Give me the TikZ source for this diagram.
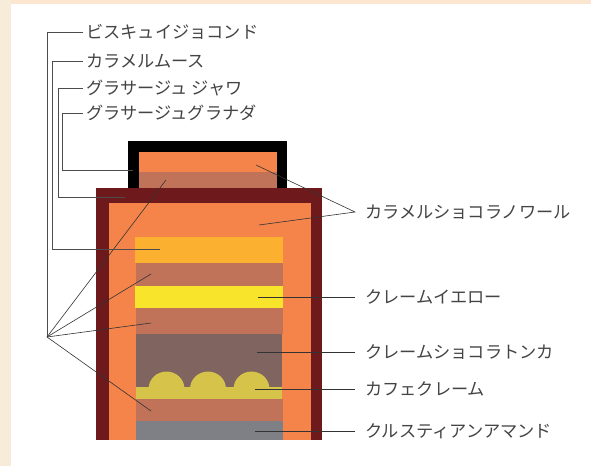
\documentclass[tikz,border=0pt]{standalone}
\usepackage{fontspec}
\newfontfamily\jpfont{Noto Sans CJK JP}
\definecolor{creamleft}{HTML}{F7EBDA}
\definecolor{creamtop}{HTML}{FCE6CF}
\definecolor{glazered}{HTML}{6E1A1C}
\definecolor{caramelorange}{HTML}{F5844B}
\definecolor{sponge}{HTML}{C1735A}
\definecolor{mousseyellow}{HTML}{FBB12F}
\definecolor{lemonyellow}{HTML}{F8E42A}
\definecolor{tonkabrown}{HTML}{7F6460}
\definecolor{cafeolive}{HTML}{D6C44A}
\definecolor{crunchgray}{HTML}{7E8085}
\definecolor{labelgray}{HTML}{444444}
\usetikzlibrary{positioning}

\begin{document}
\begin{tikzpicture}[x=1pt,y=-1pt,
    lefttag/.style={anchor=west,inner xsep=3pt,text=labelgray,font=\jpfont\fontsize{17.2}{19}\selectfont},
    righttag/.style={anchor=west,inner xsep=10pt,text=labelgray,font=\jpfont\fontsize{17.2}{19}\selectfont},
    leader/.style={draw=black!70,line width=0.8pt},
    pointer/.style={draw=black!80,line width=0.6pt}]
  \useasboundingbox (0,0) rectangle (591,466);
  \fill[white] (0,0) rectangle (591,466);
  \fill[creamtop] (0,0) rectangle (591,4);
  \fill[creamleft] (0,0) rectangle (11,466);

  % top cake with black glaze
  \fill[black] (128,141) rectangle (287,192);
  \fill[caramelorange] (139,152) rectangle (277,172);
  \fill[sponge] (139,172) rectangle (277,192);

  % main cake
  \fill[glazered] (96,188) rectangle (322,440);
  \fill[caramelorange] (109,203) rectangle (311,440);
  \fill[mousseyellow] (135,237) rectangle (283,263);
  \fill[sponge] (136,263) rectangle (283,286);
  \fill[lemonyellow] (135,286) rectangle (283,308);
  \fill[sponge] (136,308) rectangle (283,334);
  \fill[tonkabrown] (136,334) rectangle (282,388);
  \fill[cafeolive] (136,387) rectangle (282,399);
  \foreach \cx in {166.5,208,251.5}
    \fill[cafeolive] (\cx-18,389) arc[start angle=180,end angle=0,x radius=18,y radius=-17.5] -- cycle;
  \fill[sponge] (136,399) rectangle (283,421);
  \fill[crunchgray] (136,421) rectangle (283,440);

  % left labels
  \node[lefttag] (biscuit) at (83,32) {ビスキュイジョコンド};
  \node[lefttag] (mousse) at (83,61) {カラメルムース};
  \node[lefttag] (java) at (83,88) {グラサージュ ジャワ};
  \node[lefttag] (granada) at (83,113) {グラサージュグラナダ};

  \coordinate (fan) at (47,337);
  \coordinate (sponge top) at (166,180);
  \coordinate (sponge a) at (151,274);
  \coordinate (sponge b) at (151,323);
  \coordinate (sponge c) at (151,411);
  \coordinate (mousse pt) at (160,249);
  \coordinate (java pt) at (125,197);
  \coordinate (granada pt) at (133,170);

  \draw[leader] (biscuit.west) -- ++(-36,0) -- (fan);
  \foreach \t in {sponge top,sponge a,sponge b,sponge c}
    \draw[pointer] (fan) -- (\t);
  \draw[leader] (mousse.west) -- ++(-31,0) |- (mousse pt);
  \draw[leader] (java.west) -- ++(-25,0) |- (java pt);
  \draw[leader] (granada.west) -- ++(-21,0) |- (granada pt);

  % right labels
  \node[righttag] (noir) at (355,212) {カラメルショコラノワール};
  \node[righttag] (jaune) at (355,297) {クレームイエロー};
  \node[righttag] (tonka) at (355,352) {クレームショコラトンカ};
  \node[righttag] (cafe) at (355,389) {カフェクレーム};
  \node[righttag] (amande) at (355,431) {クルスティアンアマンド};

  \coordinate (noir top) at (256,165);
  \coordinate (noir body) at (259,225);
  \draw[pointer] (noir top) -- (noir.west) -- (noir body);
  \draw[pointer] (jaune.west) -- (258,297 |- jaune.west);
  \draw[pointer] (tonka.west) -- (257,352 |- tonka.west);
  \draw[pointer] (cafe.west) -- (255,389 |- cafe.west);
  \draw[pointer] (amande.west) -- (255,431 |- amande.west);
\end{tikzpicture}
\end{document}
